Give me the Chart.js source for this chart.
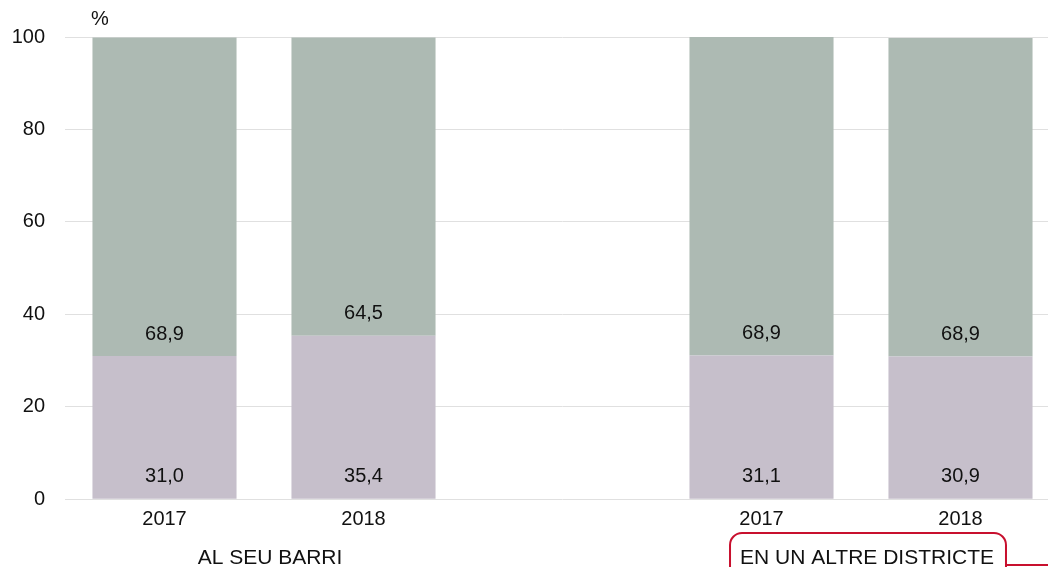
<!DOCTYPE html>
<html>
<head>
<meta charset="utf-8">
<script src="https://cdn.jsdelivr.net/npm/chart.js@4"></script>
<style>
  html, body { margin: 0; padding: 0; background: #fff; overflow: hidden; }
  #wrap { width: 1060px; height: 567px; position: relative; }
</style>
</head>
<body>
<div id="wrap"><canvas id="chart"></canvas></div>
<script>
// Dades
const anys = ['2017', '2018', '', '2017', '2018'];
const grups = ['AL SEU BARRI', 'EN UN ALTRE DISTRICTE'];
const grupIndex = [[0, 1], [3, 4]];
const valorsBaix = [31.0, 35.4, null, 31.1, 30.9];
const valorsDalt = [68.9, 64.5, null, 68.9, 68.9];
const ticksY = [0, 20, 40, 60, 80, 100];

const colorBaix = '#c6bfcb';
const colorDalt = '#adbab3';
const fontFamily = '"Liberation Sans", Arial, sans-serif';

// etiquetes dins de cada segment
const etiquetesPlugin = {
  id: 'etiquetes',
  afterDatasetsDraw(chart) {
    const ctx = chart.ctx;
    ctx.save();
    ctx.font = '20px ' + fontFamily;
    ctx.fillStyle = '#111';
    ctx.textAlign = 'center';
    ctx.textBaseline = 'middle';
    chart.data.datasets.forEach((ds, i) => {
      chart.getDatasetMeta(i).data.forEach((bar, j) => {
        const v = ds.data[j];
        if (v == null) return;
        ctx.fillText(v.toFixed(1).replace('.', ','), bar.x, bar.base - 22);
      });
    });
    ctx.restore();
  }
};

// noms dels grups, unitat i requadre vermell
const grupsPlugin = {
  id: 'grups',
  afterDraw(chart) {
    const ctx = chart.ctx;
    const x = chart.scales.x;
    ctx.save();
    ctx.font = '21px ' + fontFamily;
    ctx.fillStyle = '#111';
    ctx.textAlign = 'center';
    ctx.textBaseline = 'middle';
    grups.forEach((g, k) => {
      const cx = (x.getPixelForValue(grupIndex[k][0]) + x.getPixelForValue(grupIndex[k][1])) / 2 + 6;
      ctx.fillText(g, cx, 558);
      if (k === 1) {
        const w = ctx.measureText(g).width;
        const l = cx - w / 2 - 10, r = cx + w / 2 + 12, t = 533, b = 600, rad = 12;
        ctx.strokeStyle = '#c8102e';
        ctx.lineWidth = 2;
        ctx.beginPath();
        ctx.moveTo(l, b);
        ctx.lineTo(l, t + rad);
        ctx.arcTo(l, t, l + rad, t, rad);
        ctx.lineTo(r - rad, t);
        ctx.arcTo(r, t, r, t + rad, rad);
        ctx.lineTo(r, b);
        ctx.stroke();
        ctx.beginPath();
        ctx.moveTo(r, 565);
        ctx.lineTo(chart.width, 565);
        ctx.stroke();
      }
    });
    ctx.font = '20px ' + fontFamily;
    ctx.fillText('%', 100, 19);
    ctx.restore();
  }
};

new Chart(document.getElementById('chart'), {
  type: 'bar',
  data: {
    labels: anys,
    datasets: [
      { data: valorsBaix, backgroundColor: colorBaix },
      { data: valorsDalt, backgroundColor: colorDalt }
    ]
  },
  options: {
    responsive: true,
    maintainAspectRatio: false,
    animation: false,
    layout: { padding: { top: 37, left: 0, right: 0, bottom: 0 } },
    datasets: { bar: { categoryPercentage: 1, barPercentage: 0.724 } },
    plugins: { legend: { display: false }, tooltip: { enabled: false } },
    scales: {
      x: {
        stacked: true,
        grid: { display: false },
        border: { display: false },
        ticks: { color: '#111', font: { family: fontFamily, size: 20 }, padding: 0, maxRotation: 0 },
        afterFit(scale) { scale.height = 67.7; }
      },
      y: {
        stacked: true,
        min: 0,
        max: 100,
        afterBuildTicks(scale) { scale.ticks = ticksY.map(v => ({ value: v })); },
        grid: { color: '#e0e0e0', lineWidth: 1, drawTicks: false },
        border: { display: false },
        ticks: { color: '#111', font: { family: fontFamily, size: 20 }, padding: 20 },
        afterFit(scale) { scale.width = 65; }
      }
    }
  },
  plugins: [etiquetesPlugin, grupsPlugin]
});
</script>
</body>
</html>
